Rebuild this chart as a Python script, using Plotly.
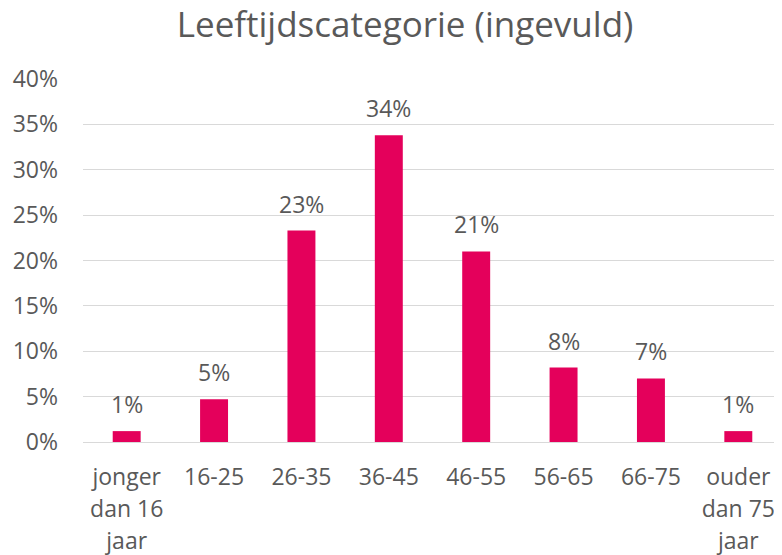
import plotly.graph_objects as go

categories = ["jonger<br>dan 16<br>jaar", "16-25", "26-35", "36-45", "46-55", "56-65", "66-75", "ouder<br>dan 75<br>jaar"]
values = [0.012, 0.047, 0.233, 0.338, 0.210, 0.082, 0.070, 0.012]
labels = ["1%", "5%", "23%", "34%", "21%", "8%", "7%", "1%"]
y_ticks = [0, 0.05, 0.10, 0.15, 0.20, 0.25, 0.30, 0.35, 0.40]
y_tick_text = ["0%", "5%", "10%", "15%", "20%", "25%", "30%", "35%", "40%"]

FONT = "Open Sans, Segoe UI, sans-serif"
GREY = "#595959"
BAR = "#E4005B"

def wrap(t):
    return "<br>".join('<span style="font-size:23px">' + p + "</span>" for p in t.split("<br>"))

tick_text = [wrap(c) for c in categories]

fig = go.Figure()
fig.add_trace(go.Bar(
    x=list(range(len(categories))),
    y=values,
    marker=dict(color=BAR, line=dict(width=0)),
    hoverinfo="skip",
))

for i, (v, lab) in enumerate(zip(values, labels)):
    fig.add_annotation(x=i, y=v, text=lab, showarrow=False, yanchor="middle",
                       yshift=27, font=dict(family=FONT, size=23, color=GREY))

# page has an 8px body margin, so the figure is sized to the remaining area
fig.update_layout(
    width=774, height=547,
    margin=dict(l=75, r=0, t=71, b=113),
    paper_bgcolor="white", plot_bgcolor="white",
    showlegend=False,
    bargap=0.68,
    title=dict(text="Leeftijdscategorie (ingevuld)", x=0.513, xref="container", xanchor="center",
               y=0.970, yref="container", yanchor="middle",
               font=dict(family=FONT, size=35, color=GREY)),
    xaxis=dict(
        tickmode="array", tickvals=list(range(len(categories))), ticktext=tick_text,
        range=[-0.5, len(categories) - 0.5],
        showgrid=False, zeroline=False, showline=False, ticks="",
        tickfont=dict(family=FONT, size=24.6, color=GREY),
        ticklabelstandoff=17,
    ),
    yaxis=dict(
        range=[0, 0.4], tickmode="array", tickvals=y_ticks, ticktext=y_tick_text,
        showgrid=True, gridcolor="#D9D9D9", gridwidth=1.3,
        zeroline=True, zerolinecolor="#D9D9D9", zerolinewidth=1.3,
        showline=False, ticks="",
        tickfont=dict(family=FONT, size=23, color=GREY),
        ticklabelstandoff=24,
    ),
)

fig.write_html("out.html")
